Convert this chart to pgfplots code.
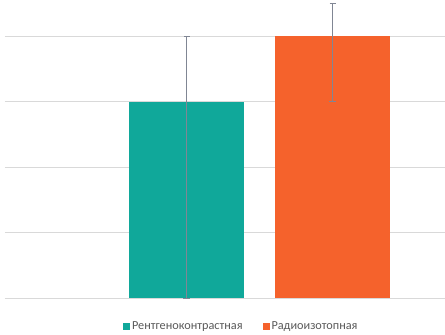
\documentclass[border=0pt]{standalone}
\usepackage{pgfplots}
\pgfplotsset{compat=1.18}
\usepackage{fontspec}
\setmainfont{Carlito}
\definecolor{tealbar}{RGB}{16,168,154}
\definecolor{orangebar}{RGB}{245,98,44}
\definecolor{gridgray}{RGB}{217,217,217}
\definecolor{errgray}{RGB}{128,134,148}
\definecolor{legtext}{RGB}{89,89,89}
\begin{document}
\begin{tikzpicture}
\begin{axis}[
  scale only axis,
  width=440bp, height=298bp,
  xmin=5, xmax=445,
  ymin=0, ymax=4.55,
  axis line style={draw=none},
  xtick=\empty,
  ytick={0,1,2,3,4},
  yticklabels={},
  major tick length=0pt,
  ymajorgrids,
  grid style={gridgray, line width=0.8pt},
  ybar, bar shift=0pt, bar width=115,
  legend columns=2,
  legend style={draw=none, fill=none, at={(0.537,-0.065)}, anchor=north,
    font=\fontsize{12.3}{14}\selectfont\color{legtext},
    /tikz/every even column/.append style={column sep=18bp}},
  legend image code/.code={\fill[#1] (0bp,-3.5bp) rectangle (7bp,3.5bp);},
  error bars/error bar style={errgray, line width=0.6pt},
  error bars/error mark options={errgray, line width=0.6pt, mark size=3bp, rotate=90},
]
\addplot[fill=tealbar, draw=none,
  error bars/.cd, y dir=both, y explicit]
  coordinates {(186.5,3) +- (0,1) -= (0,3)};
\addplot[fill=orangebar, draw=none,
  error bars/.cd, y dir=both, y explicit]
  coordinates {(332.5,4) += (0,0.5) -= (0,1)};
\legend{Рентгеноконтрастная, Радиоизотопная}
\end{axis}
\pgfresetboundingbox
\path (-5bp,-37bp) rectangle (440bp,298bp);
\end{tikzpicture}
\end{document}
